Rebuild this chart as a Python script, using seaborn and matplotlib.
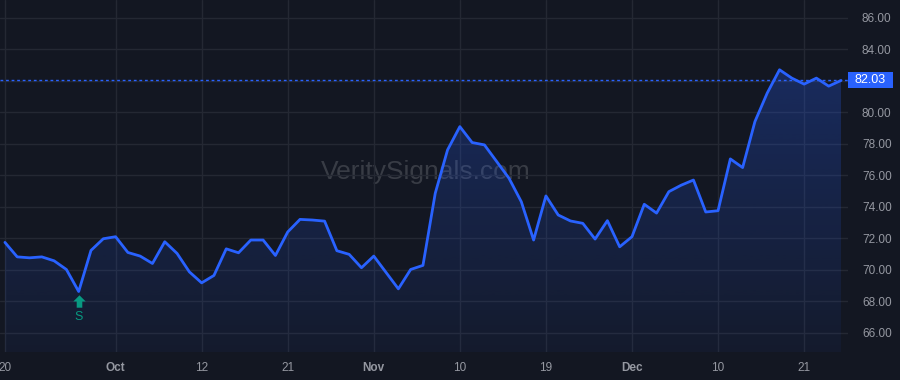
import numpy as np
import pandas as pd
import matplotlib
matplotlib.use("Agg")
import matplotlib.pyplot as plt
import matplotlib.transforms as mtransforms
from matplotlib.path import Path
from matplotlib.patches import Rectangle
import seaborn as sns

# ---- data ----
prices = [71.75, 70.83, 70.77, 70.83, 70.58, 70.03, 68.63, 71.24, 71.98, 72.11,
          71.11, 70.88, 70.41, 71.79, 71.05, 69.88, 69.18, 69.65, 71.34, 71.09,
          71.90, 71.90, 70.92, 72.41, 73.21, 73.17, 73.10, 71.22, 70.99, 70.14,
          70.88, 69.84, 68.80, 70.03, 70.29, 74.87, 77.62, 79.10, 78.09, 77.94,
          76.88, 75.82, 74.33, 71.90, 74.70, 73.49, 73.11, 72.96, 71.96, 73.13,
          71.47, 72.11, 74.17, 73.61, 74.97, 75.38, 75.71, 73.68, 73.76, 77.05,
          76.50, 79.42, 81.23, 82.71, 82.18, 81.80, 82.18, 81.67, 82.03]
tick_positions = [0, 9, 16, 23, 30, 37, 44, 51, 58, 65]
tick_labels = ["20", "Oct", "12", "21", "Nov", "10", "19", "Dec", "10", "21"]
month_labels = ["Oct", "Nov", "Dec"]
y_ticks = [66, 68, 70, 72, 74, 76, 78, 80, 82, 84, 86]
signal_index = 6
signal_label = "S"
last_price = 82.03
watermark = "VeritySignals.com"

df = pd.DataFrame({"idx": np.arange(len(prices)), "price": prices})

BG = "#131722"
GRID = "#242833"
BLUE = "#2962ff"
TXT = "#9598a1"
GREEN = "#089981"

sns.set_theme(style="dark")
plt.rcParams["font.family"] = ["Liberation Sans", "DejaVu Sans"]

fig = plt.figure(figsize=(9, 3.8), dpi=100, facecolor=BG)
ax = fig.add_axes([0, 28 / 380, 848 / 900, 352 / 380])
ax.set_facecolor(BG)

ymin, ymax = 64.79, 87.14
xmin, xmax = -0.4, 68.57
ax.set_xlim(xmin, xmax)
ax.set_ylim(ymin, ymax)

# gradient fill under the line
x = df["idx"].values
y = df["price"].values
poly = ax.fill_between(x, y, ymin, color="none", lw=0)
grad = np.linspace(0, 1, 256)
rgb = matplotlib.colors.to_rgb(BLUE)
cmap_arr = np.zeros((256, 1, 4))
cmap_arr[:, 0, :3] = rgb
cmap_arr[:, 0, 3] = 0.05 + 0.22 * grad
img = ax.imshow(cmap_arr, extent=[x[0], x[-1], ymin, max(y)], origin="lower",
                aspect="auto", zorder=1, interpolation="bilinear")
img.set_clip_path(poly.get_paths()[0], transform=ax.transData)

sns.lineplot(data=df, x="idx", y="price", ax=ax, color=BLUE, lw=2, zorder=3)

# last price dotted line
ax.axhline(last_price, color=BLUE, lw=1, ls=(0, (2, 2)), zorder=2)

# grid
ax.set_xticks(tick_positions)
ax.set_yticks(y_ticks)
ax.grid(True, color=GRID, lw=1)
ax.set_axisbelow(True)
for s in ax.spines.values():
    s.set_visible(False)

ax.yaxis.tick_right()
ax.set_yticklabels([("" if abs(v - last_price) < 0.6 else f"{v:.2f}") for v in y_ticks])
ax.tick_params(axis="y", length=0, pad=10, labelsize=8.5, labelcolor=TXT)
ax.set_xticklabels(tick_labels)
ax.tick_params(axis="x", length=0, pad=7, labelsize=8.5, labelcolor=TXT)
for lab in ax.get_xticklabels():
    if lab.get_text() in month_labels:
        lab.set_fontweight("bold")
ax.set_xlabel("")
ax.set_ylabel("")

# price label box
trans = mtransforms.blended_transform_factory(ax.transAxes, ax.transData)
box_h = 16 / 15.72
ax.add_patch(Rectangle((1.0, last_price - box_h / 2), 45 / 848, box_h,
                       transform=trans, fc=BLUE, ec="none", clip_on=False, zorder=5))
ax.text(1.0 + 22.5 / 848, last_price, f"{last_price:.2f}", transform=trans,
        ha="center", va="center", color="white", fontsize=9, clip_on=False, zorder=6)

# signal marker
arrow = Path([(0, 1), (1, 0), (0.45, 0), (0.45, -1), (-0.45, -1), (-0.45, 0), (-1, 0), (0, 1)],
             [Path.MOVETO] + [Path.LINETO] * 6 + [Path.CLOSEPOLY])
sig_y = prices[signal_index]
ax.scatter([signal_index], [sig_y - 0.6], marker=arrow, s=80, color=GREEN, zorder=4, lw=0)
ax.text(signal_index, sig_y - 1.63, signal_label, ha="center", va="center",
        color=GREEN, fontsize=9, zorder=4)

# watermark
ax.text(0.502, 0.51, watermark, transform=ax.transAxes, ha="center", va="center",
        fontsize=19, color="#ffffff", alpha=0.16, zorder=0.5)

fig.savefig("out.png", dpi=100, facecolor=BG)
